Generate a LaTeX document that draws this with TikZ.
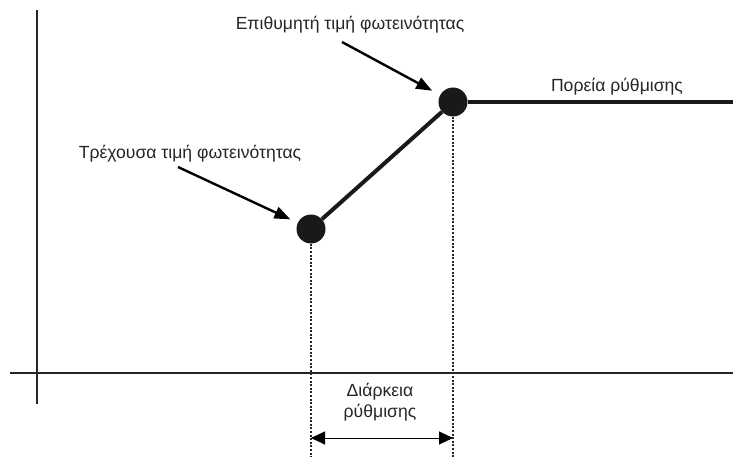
\documentclass[tikz,border=0pt]{standalone}
\usepackage{fontspec}
\setmainfont{Liberation Sans}
\usetikzlibrary{positioning, arrows.meta}

\begin{document}
\begin{tikzpicture}[
		x=1pt, y=-1pt,
		axis/.style={line width=2pt, draw=black!85},
		path/.style={line width=4pt, draw=black!90},
		dot/.style={circle, fill=black!90, minimum size=29pt, inner sep=0pt},
		guide/.style={line width=2pt, dash pattern=on 2pt off 1.6pt, draw=black!85},
		callout/.style={line width=2.4pt, -{Triangle[length=16pt, width=12pt]}},
		span/.style={line width=1pt, {Triangle[length=14pt, width=13pt]}-{Triangle[length=14pt, width=13pt]}},
		lbl/.style={font=\fontsize{17.6}{21}\selectfont, text=black!85, inner sep=0pt}
		]
		\useasboundingbox (0,0) rectangle (733,457);
		
		% axes
		\coordinate (ytop) at (37,10);
		\coordinate (ybot) at (37,404);
		\coordinate (xl) at (10,373);
		\coordinate (xr) at (733,373);
		\draw[axis] (ytop) -- (ybot);
		\draw[axis] (xl) -- (xr);
		
		% course of the adjustment
		\node[dot] (cur) at (311,229) {};
		\node[dot] (tgt) at (453,102) {};
		\coordinate (end) at (733,102);
		\draw[path] (cur) -- (tgt);
		\draw[path] (tgt) -- (end);
		
		% guides down to the duration
		\coordinate (curlow) at (311,457);
		\coordinate (tgtlow) at (453,457);
		\draw[guide] (cur) -- (curlow);
		\draw[guide] (tgt) -- (tgtlow);
		\coordinate (spanl) at (311,438);
		\coordinate (spanr) at (453,438);
		\draw[span] (spanl) -- (spanr);
		
		% labels
		\node[lbl] (tgtlabel) at (350,25) {Επιθυμητή τιμή φωτεινότητας};
		\node[lbl] (curlabel) at (190,154) {Τρέχουσα τιμή φωτεινότητας};
		\node[lbl] (pathlabel) at (617,87) {Πορεία ρύθμισης};
		\node[lbl, align=center] (spanlabel) at (380,402) {Διάρκεια\\ρύθμισης};
		
		\coordinate (tgtfrom) at (342,42);
		\coordinate (curfrom) at (178,167);
		\draw[callout, shorten >=9pt] (tgtfrom) -- (tgt);
		\draw[callout, shorten >=8pt] (curfrom) -- (cur);
		
	\end{tikzpicture}
\end{document}
